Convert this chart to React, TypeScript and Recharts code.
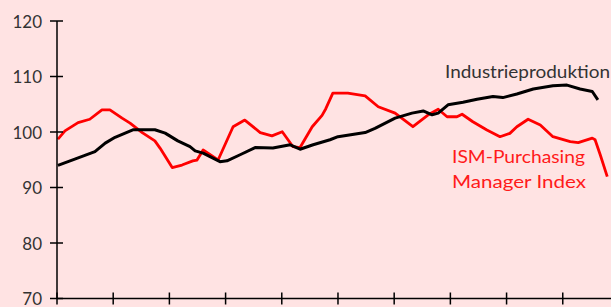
import { Line, LineChart, XAxis, YAxis } from "recharts";

// Monate seit Beginn (x), Indexwerte (y)
const industrieMonate = [
  0.2, 3.8, 8.1, 10.3, 12.4, 16.2, 20.9, 23.1, 25.8, 28.4, 29.5, 31.2, 34.8, 36.3, 39.1, 42.3, 46.1,
  49.8, 51.9, 54.7, 58.3, 60.0, 65.8, 67.9, 72.2, 75.8, 78.2, 80.1, 81.4, 83.5, 86.7, 89.7, 93.1,
  95.2, 98.2, 101.7, 105.9, 108.9, 111.7, 114.3, 115.5,
];
const industrieWerte = [
  94.0, 95.1, 96.45, 98.0, 99.05, 100.4, 100.4, 99.8, 98.4, 97.35, 96.6, 96.2, 94.65, 94.8, 95.9,
  97.2, 97.1, 97.7, 96.9, 97.7, 98.6, 99.15, 99.9, 100.65, 102.5, 103.4, 103.8, 103.1, 103.4, 104.9,
  105.35, 105.9, 106.4, 106.2, 106.85, 107.75, 108.35, 108.45, 107.75, 107.3, 105.8,
];

const ismMonate = [
  0.2, 1.7, 4.5, 7.0, 9.6, 11.3, 13.9, 15.6, 18.2, 20.9, 22.0, 24.6, 26.7, 29.0, 29.9, 31.2, 34.4,
  37.6, 40.1, 43.4, 45.9, 48.1, 50.4, 51.9, 54.5, 56.6, 57.4, 58.9, 62.1, 65.8, 68.6, 72.2, 76.0,
  79.2, 81.4, 83.3, 85.4, 86.5, 88.8, 91.8, 94.6, 96.7, 98.2, 100.6, 103.2, 105.9, 109.6, 111.3,
  114.3, 114.9, 116.0, 117.5,
];
const ismWerte = [
  98.7, 100.2, 101.7, 102.3, 104.0, 104.0, 102.5, 101.6, 99.9, 98.4, 97.1, 93.6, 94.05, 94.8, 94.95,
  96.75, 94.95, 100.95, 102.15, 99.9, 99.3, 100.05, 97.35, 97.2, 100.95, 103.0, 104.2, 107.0, 107.0,
  106.5, 104.55, 103.4, 100.95, 103.05, 104.1, 102.75, 102.75, 103.2, 101.85, 100.35, 99.15, 99.75,
  100.95, 102.3, 101.25, 99.15, 98.25, 98.1, 98.9, 98.6, 95.9, 91.95,
];

const xTicks = [0, 12, 24, 36, 48, 60, 72, 84, 96, 108];
const yTicks = [70, 80, 90, 100, 110, 120];

const industrie = industrieMonate.map((m, i) => ({ monat: m, wert: industrieWerte[i] }));
const ism = ismMonate.map((m, i) => ({ monat: m, wert: ismWerte[i] }));

const font = "Lato, 'Open Sans', sans-serif";

function YTick(props: any) {
  const { x, y, payload } = props;
  return (
    <g>
      <line x1={x - 7} x2={x + 6} y1={y} y2={y} stroke="#000" strokeWidth={1.5} />
      <text x={x - 15} y={y} textAnchor="end" dominantBaseline="central" fontSize={17} fill="#333" fontFamily={font}>
        {payload.value}
      </text>
    </g>
  );
}

function XTick(props: any) {
  const { x, y } = props;
  return <line x1={x} x2={x} y1={y - 6} y2={y + 6} stroke="#000" strokeWidth={1.5} />;
}

export default function App() {
  return (
    <div
      style={{
        position: "absolute",
        left: 0,
        top: 0,
        width: 611,
        height: 307,
        background: "#ffe3e3",
        overflow: "hidden",
      }}
    >
      <LineChart width={611} height={307} margin={{ top: 21, right: 0, bottom: 0, left: 0 }}>
        <XAxis
          type="number"
          dataKey="monat"
          domain={[0, 118.3]}
          ticks={xTicks}
          interval={0}
          height={8.5}
          tickSize={0}
          tickMargin={0}
          tick={XTick}
          axisLine={{ stroke: "#000", strokeWidth: 1.5 }}
          allowDataOverflow
        />
        <YAxis
          type="number"
          domain={[70, 120]}
          ticks={yTicks}
          interval={0}
          width={57}
          tickSize={0}
          tickMargin={0}
          tick={YTick}
          axisLine={{ stroke: "#000", strokeWidth: 1.5 }}
        />
        <Line
          data={ism}
          dataKey="wert"
          type="linear"
          stroke="#ff0000"
          strokeWidth={2.8}
          dot={false}
          strokeLinejoin="round"
          isAnimationActive={false}
        />
        <Line
          data={industrie}
          dataKey="wert"
          type="linear"
          stroke="#000000"
          strokeWidth={3}
          dot={false}
          strokeLinejoin="round"
          isAnimationActive={false}
        />
      </LineChart>
      <svg width={611} height={307} style={{ position: "absolute", left: 0, top: 0, pointerEvents: "none" }}>
        <text x={445} y={78} fontSize={18} fill="#333" fontFamily={font} textLength={165} lengthAdjust="spacingAndGlyphs">
          Industrieproduktion
        </text>
        <text x={452} y={163} fontSize={18} fill="#ff1a1a" fontFamily={font} textLength={133} lengthAdjust="spacingAndGlyphs">
          ISM-Purchasing
        </text>
        <text x={452} y={188} fontSize={18} fill="#ff1a1a" fontFamily={font} textLength={134} lengthAdjust="spacingAndGlyphs">
          Manager Index
        </text>
      </svg>
    </div>
  );
}
